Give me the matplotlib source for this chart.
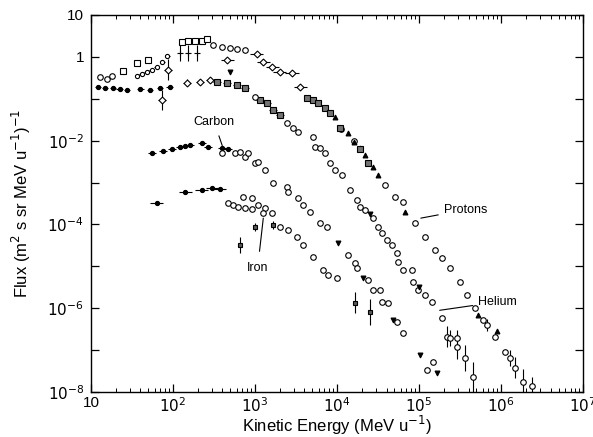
import numpy as np
import matplotlib.pyplot as plt

plt.rcParams['font.family'] = ['Liberation Sans', 'DejaVu Sans']

# log10(kinetic energy / MeV u^-1) and log10(flux)

# --- protons ---
p_sq_x = [1.39, 1.56, 1.695, 2.11, 2.18, 2.27, 2.35, 2.41]
p_sq_y = [-0.336, -0.146, -0.074, 0.356, 0.38, 0.38, 0.38, 0.43]
p_dot_x = [1.56, 1.62, 1.68, 1.74, 1.80, 1.87, 1.93]
p_dot_y = [-0.456, -0.41, -0.36, -0.31, -0.24, -0.12, 0.02]
p_circ_x = [1.11, 1.195, 1.256, 2.49, 2.60, 2.70, 2.78, 2.88, 4.05, 4.20,
            4.58, 4.71, 4.80, 4.95, 5.07, 5.19, 5.28, 5.38, 5.50, 5.585,
            5.68, 5.78, 5.93, 6.05]
p_circ_y = [-0.48, -0.53, -0.456, 0.284, 0.236, 0.21, 0.19, 0.165, -1.72, -2.01,
            -3.06, -3.34, -3.46, -3.96, -4.30, -4.61, -4.80, -5.04, -5.37, -5.68,
            -5.99, -6.28, -6.68, -7.04]
p_dia_x = [2.66, 3.02, 3.10, 3.21, 3.30, 3.45, 3.55]
p_dia_y = [-0.074, 0.07, -0.12, -0.24, -0.36, -0.38, -0.72]
p_cross_x = [2.085, 2.18, 2.29]
p_cross_y = [0.093, 0.093, 0.093]
p_tri_x = [3.98, 4.13, 4.20, 4.28, 4.34, 4.44, 4.50, 4.83, 5.72, 5.95]
p_tri_y = [-1.43, -1.82, -2.04, -2.17, -2.34, -2.63, -2.82, -3.70, -6.16, -6.55]
p_shade_x = [3.63, 3.71, 3.77, 3.85, 3.91, 4.04, 4.28, 4.38]
p_shade_y = [-0.98, -1.03, -1.10, -1.22, -1.34, -1.70, -2.20, -2.53]
p_hi_x = [5.83, 6.11, 6.17, 6.27, 6.38]
p_hi_y = [-6.40, -7.19, -7.42, -7.76, -7.85]
p_hi_err = [0.15, 0.2, 0.25, 0.3, 0.2]

# --- helium ---
he_dot_x = [1.085, 1.17, 1.27, 1.35, 1.44, 1.60, 1.72, 1.84, 1.96]
he_dot_y = [-0.72, -0.74, -0.74, -0.77, -0.79, -0.77, -0.79, -0.74, -0.72]
he_dia_x = [1.87, 1.94, 2.17, 2.33, 2.45]
he_dia_y = [-1.03, -0.31, -0.62, -0.60, -0.55]
he_dia_err = [0.25, 0.25, 0.08, 0.08, 0.08]
he_shade_x = [2.54, 2.66, 2.78, 2.88, 3.06, 3.15, 3.22, 3.30]
he_shade_y = [-0.60, -0.62, -0.67, -0.74, -1.03, -1.10, -1.27, -1.39]
he_circ_x = [3.00, 3.39, 3.46, 3.52, 3.71, 3.73, 3.79, 3.85, 3.91, 3.98,
             4.06, 4.16, 4.24, 4.28, 4.34, 4.44, 4.50, 4.55, 4.61, 4.67,
             4.73, 4.74, 4.80, 4.91, 4.93, 4.98, 5.07, 5.16, 5.28]
he_circ_y = [-0.96, -1.58, -1.70, -1.79, -1.91, -2.15, -2.17, -2.29, -2.53, -2.70,
             -2.82, -3.18, -3.42, -3.58, -3.65, -3.84, -4.06, -4.20, -4.37, -4.49,
             -4.68, -4.90, -5.09, -5.09, -5.37, -5.56, -5.68, -5.85, -6.23]
he_tri_x = [2.70, 4.40, 5.00]
he_tri_y = [-0.36, -3.75, -5.50]
he_hi_x = [5.34, 5.38, 5.46, 5.46, 5.56, 5.66]
he_hi_y = [-6.68, -6.71, -6.71, -6.92, -7.19, -7.64]
he_hi_err = [0.25, 0.2, 0.2, 0.3, 0.3, 0.35]

# --- carbon ---
c_dot_x = [1.74, 1.88, 1.99, 2.085, 2.15, 2.21, 2.35, 2.43, 2.60, 2.67]
c_dot_y = [-2.29, -2.25, -2.20, -2.15, -2.13, -2.10, -2.05, -2.15, -2.17, -2.20]
c_circ_x = [2.60, 2.76, 2.82, 2.88, 2.91, 3.00, 3.04, 3.12, 3.22, 3.39,
            3.40, 3.52, 3.585, 3.67, 3.79, 3.88, 4.13, 4.22, 4.24, 4.38,
            4.44, 4.52, 4.55, 4.62, 4.73, 4.80, 5.10, 5.17]
c_circ_y = [-2.29, -2.29, -2.27, -2.39, -2.29, -2.53, -2.51, -2.70, -3.01, -3.10,
            -3.22, -3.37, -3.53, -3.70, -3.96, -4.06, -4.73, -4.92, -5.04, -5.32,
            -5.56, -5.56, -5.85, -5.87, -6.33, -6.59, -7.47, -7.28]
c_tri_x = [4.01, 4.32, 4.68, 5.01, 5.22]
c_tri_y = [-4.44, -5.28, -6.28, -7.11, -7.54]

# --- iron ---
fe_dot_x = [1.80, 2.15, 2.35, 2.48, 2.57]
fe_dot_y = [-3.49, -3.22, -3.18, -3.13, -3.15]
fe_circ_x = [2.67, 2.73, 2.79, 2.88, 2.96, 2.85, 2.96, 3.04, 3.12, 3.21,
             3.10, 3.30, 3.40, 3.51, 3.585, 3.71, 3.83, 3.89, 4.00]
fe_circ_y = [-3.49, -3.53, -3.58, -3.61, -3.63, -3.34, -3.37, -3.53, -3.61, -3.73,
             -3.73, -4.06, -4.13, -4.30, -4.49, -4.78, -5.09, -5.21, -5.28]
fe_sq_x = [2.82, 3.00, 3.22, 4.22, 4.40]
fe_sq_y = [-4.49, -4.06, -4.01, -5.87, -6.09]
fe_sq_err = [0.2, 0.1, 0.1, 0.25, 0.3]


def lin(v):
    return 10 ** np.asarray(v, dtype=float)


def yerr_band(y, err):
    y = np.asarray(y, dtype=float)
    err = np.asarray(err, dtype=float)
    return [lin(y) - lin(y - err), lin(y + err) - lin(y)]


def xerr_band(x, d):
    x = np.asarray(x, dtype=float)
    return [lin(x) - lin(x - d), lin(x + d) - lin(x)]


fig = plt.figure(figsize=(5.93, 4.37), dpi=100)
ax = fig.add_axes([0.1535, 0.103, 0.83, 0.8627])

kw = dict(color='black', mec='black', ms=4, mew=0.8, ls='none', elinewidth=0.8, capsize=0)

# protons
ax.errorbar(lin(p_sq_x), lin(p_sq_y), fmt='s', mfc='white', **kw)
ax.errorbar(lin(p_dot_x), lin(p_dot_y), xerr=xerr_band(p_dot_x, 0.03), fmt='o', mfc='white', **dict(kw, ms=3))
ax.errorbar(lin(p_circ_x), lin(p_circ_y), fmt='o', mfc='white', **kw)
ax.errorbar(lin(p_dia_x), lin(p_dia_y), xerr=xerr_band(p_dia_x, 0.08), fmt='D', mfc='white', **dict(kw, ms=3.5))
ax.errorbar(lin(p_cross_x), lin(p_cross_y), yerr=yerr_band(p_cross_y, [0.2, 0.2, 0.2]), fmt='+', **kw)
ax.errorbar(lin(p_tri_x), lin(p_tri_y), fmt='^', mfc='black', **dict(kw, ms=3.5))
ax.errorbar(lin(p_shade_x), lin(p_shade_y), fmt='s', mfc='0.45', **kw)
ax.errorbar(lin(p_hi_x), lin(p_hi_y), yerr=yerr_band(p_hi_y, p_hi_err), fmt='o', mfc='white', **kw)

# helium
ax.errorbar(lin(he_dot_x), lin(he_dot_y), xerr=xerr_band(he_dot_x, 0.04), fmt='o', mfc='black', **dict(kw, ms=3))
ax.errorbar(lin(he_dia_x), lin(he_dia_y), yerr=yerr_band(he_dia_y, he_dia_err),
            xerr=xerr_band(he_dia_x, 0.05), fmt='D', mfc='white', **dict(kw, ms=3.5))
ax.errorbar(lin(he_shade_x), lin(he_shade_y), xerr=xerr_band(he_shade_x, 0.05), fmt='s', mfc='0.45', **kw)
ax.errorbar(lin(he_circ_x), lin(he_circ_y), fmt='o', mfc='white', **kw)
ax.errorbar(lin(he_tri_x), lin(he_tri_y), fmt='v', mfc='black', **dict(kw, ms=3.5))
ax.errorbar(lin(he_hi_x), lin(he_hi_y), yerr=yerr_band(he_hi_y, he_hi_err), fmt='o', mfc='white', **kw)

# carbon
ax.errorbar(lin(c_dot_x), lin(c_dot_y), xerr=xerr_band(c_dot_x, 0.05), fmt='o', mfc='black', **dict(kw, ms=3))
ax.errorbar(lin(c_circ_x), lin(c_circ_y), fmt='o', mfc='white', **kw)
ax.errorbar(lin(c_tri_x), lin(c_tri_y), fmt='v', mfc='black', **dict(kw, ms=3.5))

# iron
ax.errorbar(lin(fe_dot_x), lin(fe_dot_y), xerr=xerr_band(fe_dot_x, 0.08), fmt='o', mfc='black', **dict(kw, ms=3))
ax.errorbar(lin(fe_circ_x), lin(fe_circ_y), fmt='o', mfc='white', **kw)
ax.errorbar(lin(fe_sq_x), lin(fe_sq_y), yerr=yerr_band(fe_sq_y, fe_sq_err), fmt='s', mfc='0.35', **dict(kw, ms=3.5))

ax.set_xscale('log')
ax.set_yscale('log')
ax.set_xlim(10, 1e7)
ax.set_ylim(1e-8, 10)

xt = [10, 1e2, 1e3, 1e4, 1e5, 1e6, 1e7]
ax.set_xticks(xt, ['10', '$10^2$', '$10^3$', '$10^4$', '$10^5$', '$10^6$', '$10^7$'])
yt = [10.0 ** k for k in range(-8, 2)]
ylab = {1: '10', 0: '1', -2: '$10^{-2}$', -4: '$10^{-4}$', -6: '$10^{-6}$', -8: '$10^{-8}$'}
ax.set_yticks(yt, [ylab.get(k, '') for k in range(-8, 2)])

ax.tick_params(which='both', direction='in', top=True, right=True, labelsize=11)
ax.tick_params(axis='x', pad=3)
ax.tick_params(axis='y', pad=5)
ax.tick_params(which='major', length=6, width=0.9)
ax.tick_params(which='minor', length=3, width=0.7)
for s in ax.spines.values():
    s.set_linewidth(1.0)

ax.set_xlabel('Kinetic Energy (MeV u$^{-1}$)', fontsize=12)
ax.set_ylabel('Flux (m$^2$ s sr MeV u$^{-1}$)$^{-1}$', fontsize=12)
ax.xaxis.set_label_coords(0.5, -0.057)
ax.yaxis.set_label_coords(-0.118, 0.5)

# curve labels
ax.annotate('Carbon', xy=(lin(2.60), lin(-2.12)), xytext=(lin(2.5), lin(-1.55)),
            fontsize=9, ha='center', va='center',
            arrowprops=dict(arrowstyle='-', lw=0.8, shrinkA=4, shrinkB=0))
ax.annotate('Iron', xy=(lin(3.10), lin(-3.85)), xytext=(lin(3.03), lin(-5.05)),
            fontsize=9, ha='center', va='center',
            arrowprops=dict(arrowstyle='-', lw=0.8, shrinkA=6, shrinkB=0))
ax.annotate('Protons', xy=(lin(5.02), lin(-3.85)), xytext=(lin(5.3), lin(-3.65)),
            fontsize=9, ha='left', va='center',
            arrowprops=dict(arrowstyle='-', lw=0.8, shrinkA=2, shrinkB=0))
ax.annotate('Helium', xy=(lin(5.25), lin(-6.05)), xytext=(lin(5.72), lin(-5.85)),
            fontsize=9, ha='left', va='center',
            arrowprops=dict(arrowstyle='-', lw=0.8, shrinkA=2, shrinkB=0))

fig.savefig('out.png', dpi=100)
